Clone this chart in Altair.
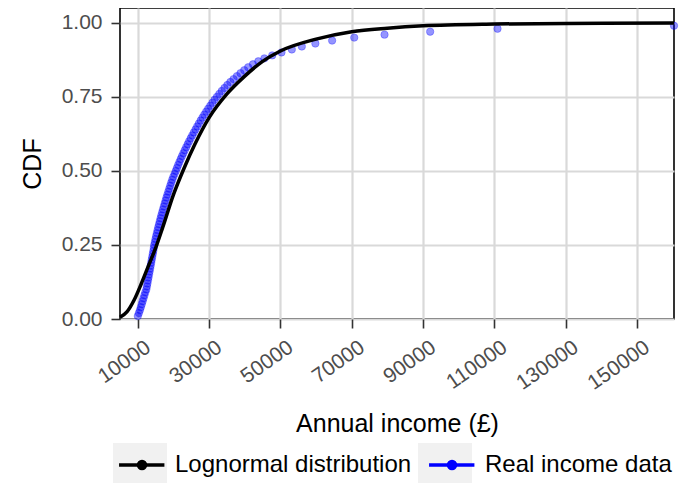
import altair as alt
import pandas as pd

# Real income data: percentile points (1..99) and annual income (£)
percentiles = list(range(1, 100))
real_income = [
    10000, 10300, 10600, 10850, 11100, 11350, 11600, 11850, 12100, 12400,
    12550, 12700, 12850, 13000, 13150, 13300, 13450, 13600, 13750, 13900,
    14050, 14200, 14350, 14480, 14600, 14780, 14960, 15150, 15340, 15540,
    15740, 15950, 16160, 16380, 16600, 16830, 17060, 17300, 17540, 17790,
    18040, 18300, 18560, 18830, 19100, 19370, 19660, 19960, 20320, 20650,
    20980, 21320, 21670, 22030, 22400, 22780, 23170, 23570, 23980, 24400,
    24830, 25270, 25720, 26180, 26650, 27130, 27620, 28120, 28640, 29180,
    29740, 30320, 30920, 31540, 32180, 32850, 33550, 34300, 35100, 35950,
    36850, 37800, 38800, 39850, 40950, 42300, 43800, 45500, 47700, 50300,
    53200, 56000, 59800, 64500, 70700, 79200, 92000, 110900, 160400,
]

# Lognormal distribution curve
logn_income = [5000, 7000, 9000, 11000, 13000, 15000, 17000, 20000, 23000, 26000,
               30000, 35000, 40000, 45000, 50000, 60000, 70000, 80000, 90000,
               110000, 130000, 160400]
logn_cdf = [0.006, 0.025, 0.065, 0.12, 0.18, 0.24, 0.31, 0.42, 0.51, 0.59,
            0.68, 0.76, 0.82, 0.87, 0.905, 0.945, 0.97, 0.982, 0.99,
            0.996, 0.998, 0.999]

series_names = ["Lognormal distribution", "Real income data"]
series_colors = ["black", "blue"]
key_ids = ["k1", "k2"]
x_ticks = [10000, 30000, 50000, 70000, 90000, 110000, 130000, 150000]
y_ticks = [0.0, 0.25, 0.5, 0.75, 1.0]

FONT = "Liberation Sans"
LEG_SIZE = 2916  # legend key box of 54 px

pts = pd.DataFrame({"income": real_income,
                    "cdf": [p / 100 for p in percentiles],
                    "series": series_names[1],
                    "key": key_ids[1]})
line = pd.DataFrame({"income": logn_income, "cdf": logn_cdf,
                     "series": series_names[0]})

xs = alt.X("income:Q",
           scale=alt.Scale(domain=[5000, 160400], nice=False, zero=False),
           axis=alt.Axis(values=x_ticks, title="Annual income (£)", format="d",
                         labelAngle=-35, labelAlign="right", labelBaseline="top",
                         labelPadding=8, labelOffset=4, labelOverlap=False,
                         labelFlush=False, titleY=104, titleBaseline="middle"))
ys = alt.Y("cdf:Q",
           scale=alt.Scale(domain=[0, 1.05], nice=False),
           axis=alt.Axis(values=y_ticks, title="CDF", format=".2f",
                         labelPadding=9, labelOverlap=False, labelFlush=False,
                         titleX=-88, titleBaseline="middle"))

leg_common = dict(title=None, orient="none", direction="horizontal",
                  legendX=-7, legendY=428, padding=0,
                  symbolSize=LEG_SIZE, labelFontSize=24, labelFont=FONT,
                  labelLimit=0, labelOffset=4, columnPadding=10)

color = alt.Color("series:N",
                  scale=alt.Scale(domain=series_names, range=series_colors),
                  legend=alt.Legend(symbolType="M-0.85,0H0.83M0.13,0A0.13,0.13,0,1,1,-0.13,0A0.13,0.13,0,1,1,0.13,0",
                                    symbolStrokeWidth=3.5, symbolOpacity=1,
                                    labelColor="black", zindex=2, **leg_common))
# grey key boxes drawn behind the legend keys (same layout, hidden labels)
key_label = "datum.label == 'k1' ? 'Lognormal distribution' : 'Real income data'"
key_boxes = alt.Opacity("key:O",
                        scale=alt.Scale(domain=key_ids, range=[0.42, 0.42]),
                        legend=alt.Legend(symbolType="M-1,-0.74H1V0.74H-1Z",
                                          symbolFillColor="#DEDEDE", symbolStrokeWidth=0,
                                          labelExpr=key_label,
                                          labelOpacity=0, labelColor="white", zindex=1,
                                          **leg_common))

points = alt.Chart(pts).mark_circle(size=55).encode(
    x=xs, y=ys, color=color, opacity=key_boxes)
rims = alt.Chart(pts).mark_point(size=55, filled=False, color="blue",
                                 strokeWidth=1, opacity=0.3).encode(x=xs, y=ys)
curve = alt.Chart(line).mark_line(strokeWidth=3.5, interpolate="monotone").encode(
    x=xs, y=ys, color=color)

chart = alt.layer(points, rims, curve).properties(
    width=554, height=311,
    autosize=alt.AutoSizeParams(type="none"),
    padding={"left": 112, "top": 0, "right": 9, "bottom": 168},
).configure_view(stroke="black", strokeWidth=1.6).configure_axis(
    labelFont=FONT, titleFont=FONT,
    labelFontSize=21, titleFontSize=25, labelColor="#4D4D4D", titleColor="black",
    titleFontWeight="normal", grid=True, gridColor="#D9D9D9", gridWidth=2.2,
    domain=False, tickColor="#333333", tickSize=9, tickWidth=1.6,
)

chart.save("out.html", embed_options={"renderer": "svg", "actions": False})
